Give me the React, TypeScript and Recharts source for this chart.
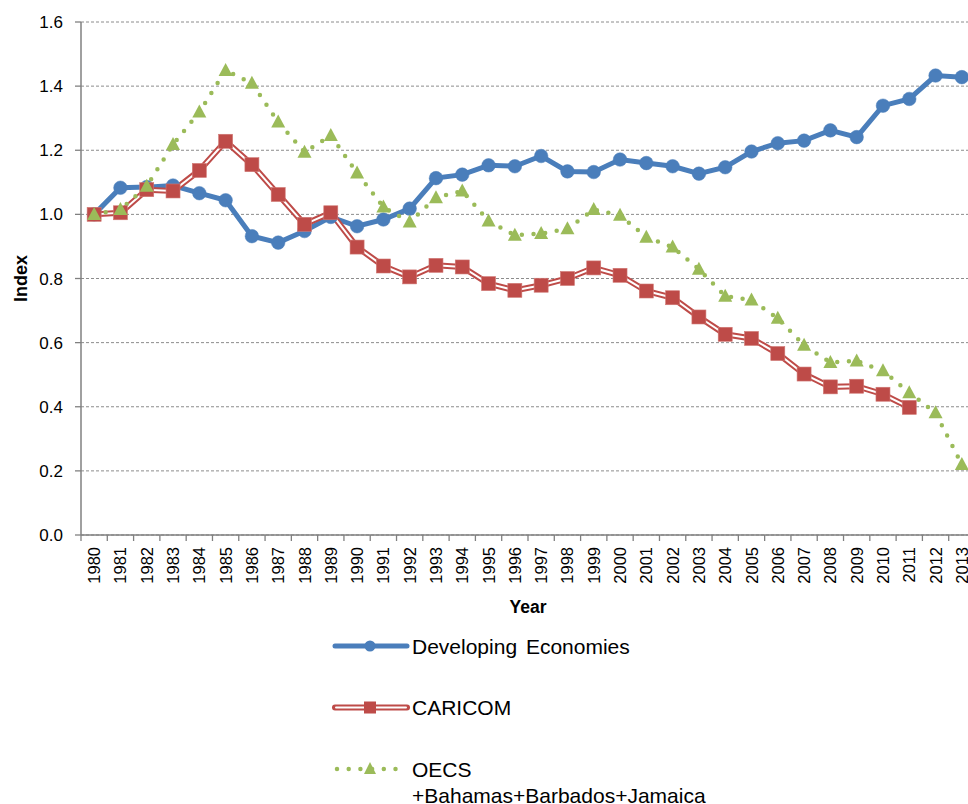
import React from 'react';
import { LineChart, Line, XAxis, YAxis, CartesianGrid } from 'recharts';

const FONT = '"Liberation Sans", Arial, sans-serif';

const years = [
  1980, 1981, 1982, 1983, 1984, 1985, 1986, 1987, 1988, 1989,
  1990, 1991, 1992, 1993, 1994, 1995, 1996, 1997, 1998, 1999,
  2000, 2001, 2002, 2003, 2004, 2005, 2006, 2007, 2008, 2009,
  2010, 2011, 2012, 2013,
];

const developing = [
  1.0, 1.083, 1.085, 1.09, 1.066, 1.044, 0.932, 0.912, 0.948, 0.992,
  0.963, 0.984, 1.018, 1.113, 1.124, 1.153, 1.15, 1.182, 1.134, 1.132,
  1.171, 1.16, 1.15, 1.127, 1.147, 1.196, 1.222, 1.23, 1.262, 1.241,
  1.339, 1.36, 1.433, 1.428,
];

const caricom: (number | null)[] = [
  1.0, 1.005, 1.077, 1.073, 1.137, 1.228, 1.155, 1.062, 0.969, 1.005,
  0.898, 0.839, 0.805, 0.841, 0.836, 0.784, 0.763, 0.779, 0.8, 0.833,
  0.81, 0.761, 0.74, 0.68, 0.626, 0.613, 0.566, 0.502, 0.462, 0.464,
  0.439, 0.398, null, null,
];

const oecs = [
  1.0, 1.015, 1.088, 1.218, 1.319, 1.449, 1.409, 1.288, 1.194, 1.246,
  1.129, 1.023, 0.976, 1.052, 1.073, 0.979, 0.935, 0.94, 0.955, 1.015,
  0.997, 0.929, 0.898, 0.829, 0.745, 0.733, 0.676, 0.592, 0.538, 0.543,
  0.512, 0.444, 0.381, 0.22,
];

const yTicks = [0, 0.2, 0.4, 0.6, 0.8, 1.0, 1.2, 1.4, 1.6];

const seriesNames = ['Developing Economies', 'CARICOM', 'OECS', '+Bahamas+Barbados+Jamaica'];

const data = years.map((y, i) => ({
  year: y,
  dev: developing[i],
  caricom: caricom[i],
  oecs: oecs[i],
}));

const xTicks: number[] = [];
years.forEach((y) => {
  xTicks.push(y - 0.5);
  xTicks.push(y);
});
xTicks.push(years[years.length - 1] + 0.5);

const BLUE = '#4A7EBB';
const RED = '#BE4B48';
const GREEN = '#9BBB59';
const AXIS = '#808080';

const XTick = (props: any) => {
  const { x, y, payload } = props;
  const v = payload.value;
  if (Number.isInteger(v)) {
    return (
      <text
        transform={`translate(${x},${y + 12}) rotate(-90)`}
        textAnchor="end"
        dominantBaseline="central"
        fontSize={16.5}
        fontFamily={FONT}
        fill="#000"
      >
        {v}
      </text>
    );
  }
  return <line x1={x} y1={y} x2={x} y2={y + 6} stroke={AXIS} strokeWidth={1.3} />;
};

const CircleDot = (props: any) => {
  const { cx, cy, index } = props;
  if (cx == null || cy == null) return <g key={`c${index}`} />;
  return <circle key={`c${index}`} cx={cx} cy={cy} r={6.8} fill={BLUE} stroke={BLUE} strokeWidth={0.5} />;
};

const SquareDot = (props: any) => {
  const { cx, cy, index, value } = props;
  if (cx == null || cy == null || value == null) return <g key={`s${index}`} />;
  return <rect key={`s${index}`} x={cx - 7} y={cy - 7} width={14} height={14} fill={RED} stroke="#D07874" strokeWidth={0.6} />;
};

const TriDot = (props: any) => {
  const { cx, cy, index } = props;
  if (cx == null || cy == null) return <g key={`t${index}`} />;
  return (
    <path
      key={`t${index}`}
      d={`M${cx},${cy - 7.5} L${cx + 7},${cy + 5.5} L${cx - 7},${cy + 5.5} Z`}
      fill={GREEN}
    />
  );
};

const Legend = () => (
  <svg
    width={968}
    height={804}
    style={{ position: 'absolute', left: 0, top: 0, pointerEvents: 'none' }}
  >
    {/* Developing Economies */}
    <line x1={335} y1={646} x2={407} y2={646} stroke={BLUE} strokeWidth={5} strokeLinecap="round" />
    <circle cx={370} cy={646} r={5.5} fill={BLUE} />
    <text x={412} y={646} dominantBaseline="central" fontSize={21} fontFamily={FONT} fill="#000" wordSpacing={3}>
      {seriesNames[0]}
    </text>
    {/* CARICOM */}
    <line x1={335} y1={707.5} x2={407} y2={707.5} stroke={RED} strokeWidth={6} strokeLinecap="round" />
    <line x1={336} y1={707.5} x2={406} y2={707.5} stroke="#fff" strokeWidth={2} strokeLinecap="round" />
    <rect x={364} y={701.5} width={12} height={12} fill={RED} />
    <text x={412} y={707.5} dominantBaseline="central" fontSize={21} fontFamily={FONT} fill="#000">
      {seriesNames[1]}
    </text>
    {/* OECS */}
    <line x1={337} y1={769} x2={400} y2={769} stroke={GREEN} strokeWidth={4.5} strokeLinecap="round" strokeDasharray="0 11.7" />
    <path d={`M370,762 L376,774 L364,774 Z`} fill={GREEN} />
    <text x={412} y={769} dominantBaseline="central" fontSize={21} fontFamily={FONT} fill="#000">
      {seriesNames[2]}
    </text>
    <text x={412} y={795} dominantBaseline="central" fontSize={21} fontFamily={FONT} fill="#000">
      {seriesNames[3]}
    </text>
  </svg>
);

export default function App() {
  return (
    <div
      style={{
        position: 'fixed',
        left: 0,
        top: 0,
        width: 968,
        height: 804,
        overflow: 'hidden',
        background: '#fff',
        fontFamily: FONT,
      }}
    >
      <LineChart
        width={976}
        height={804}
        data={data}
        margin={{ top: 22, right: 1, left: 0, bottom: 189 }}
      >
        <CartesianGrid horizontal vertical={false} stroke="#8c8c8c" strokeDasharray="3 2" strokeWidth={1} />
        <XAxis
          dataKey="year"
          type="number"
          domain={[1979.5, 2013.5]}
          ticks={xTicks}
          interval={0}
          height={80}
          tickSize={0}
          tickMargin={0}
          tickLine={false}
          tick={(p: any) => <XTick {...p} />}
          axisLine={{ stroke: AXIS, strokeWidth: 1.5 }}
          label={{
            content: (lp: any) => {
              const vb = lp.viewBox || {};
              return (
                <text
                  x={vb.x + vb.width / 2}
                  y={vb.y + 72}
                  textAnchor="middle"
                  dominantBaseline="central"
                  fontSize={17.5}
                  fontWeight="bold"
                  fontFamily={FONT}
                  fill="#000"
                >
                  Year
                </text>
              );
            },
          }}
        />
        <YAxis
          type="number"
          domain={[0, 1.6]}
          ticks={yTicks}
          interval={0}
          width={81}
          tickSize={6}
          tickMargin={12}
          tickLine={{ stroke: AXIS, strokeWidth: 1.3 }}
          axisLine={{ stroke: AXIS, strokeWidth: 1.5 }}
          tickFormatter={(v: number) => v.toFixed(1)}
          tick={{ fill: '#000', fontSize: 17, fontFamily: FONT }}
          label={{
            content: (lp: any) => {
              const vb = lp.viewBox || {};
              const cx = 21;
              const cy = vb.y + vb.height / 2;
              return (
                <text
                  transform={`translate(${cx},${cy}) rotate(-90)`}
                  textAnchor="middle"
                  dominantBaseline="central"
                  fontSize={18}
                  fontWeight="bold"
                  fontFamily={FONT}
                  fill="#000"
                >
                  Index
                </text>
              );
            },
          }}
        />
        <Line
          dataKey="dev"
          stroke={BLUE}
          strokeWidth={5}
          dot={(p: any) => <CircleDot {...p} />}
          activeDot={false}
          isAnimationActive={false}
        />
        <Line
          dataKey="caricom"
          stroke={RED}
          strokeWidth={6}
          dot={false}
          activeDot={false}
          isAnimationActive={false}
        />
        <Line
          dataKey="caricom"
          stroke="#fff"
          strokeWidth={2}
          dot={false}
          activeDot={false}
          isAnimationActive={false}
        />
        <Line
          dataKey="caricom"
          stroke="none"
          dot={(p: any) => <SquareDot {...p} />}
          activeDot={false}
          isAnimationActive={false}
        />
        <Line
          dataKey="oecs"
          stroke={GREEN}
          strokeWidth={4.5}
          strokeLinecap="round"
          strokeDasharray="0 11.7"
          dot={(p: any) => <TriDot {...p} />}
          activeDot={false}
          isAnimationActive={false}
        />
      </LineChart>
      <Legend />
    </div>
  );
}
